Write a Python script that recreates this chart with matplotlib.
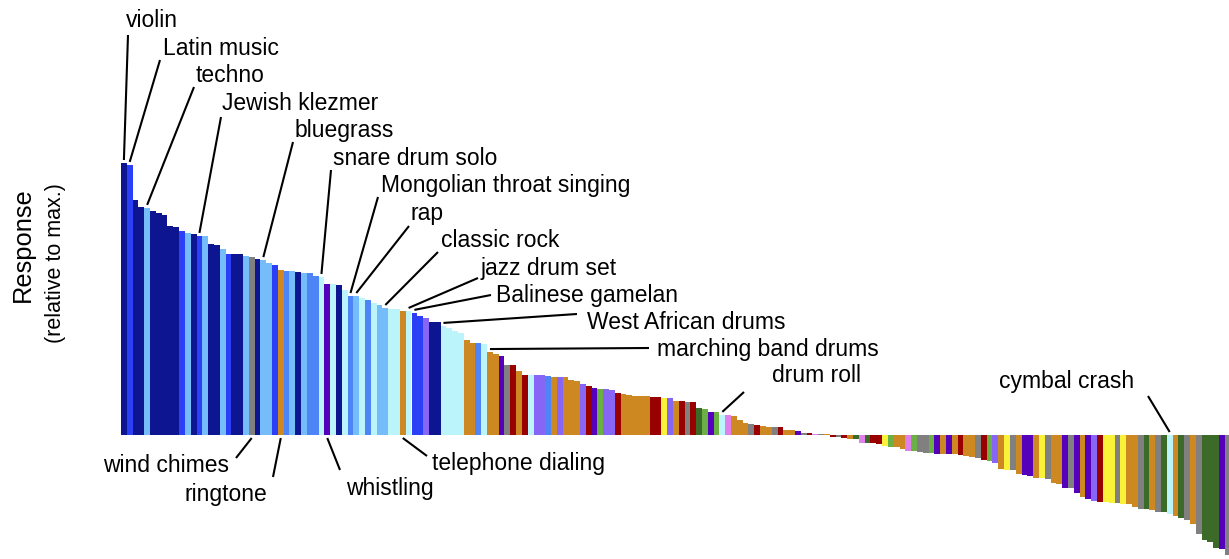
import matplotlib
matplotlib.use("Agg")
import matplotlib.pyplot as plt
import numpy as np

plt.rcParams["font.family"] = ["Liberation Sans", "DejaVu Sans"]

# response of each sound, sorted, relative to the max
response = [
    1.000, 0.993, 0.864, 0.838, 0.835, 0.824, 0.816, 0.809, 0.768, 0.765,
    0.750, 0.743, 0.739, 0.732, 0.732, 0.702, 0.699, 0.684, 0.665, 0.665,
    0.665, 0.658, 0.654, 0.647, 0.643, 0.632, 0.625, 0.607, 0.603, 0.603,
    0.599, 0.596, 0.596, 0.585, 0.581, 0.555, 0.555, 0.551, 0.533, 0.511,
    0.511, 0.504, 0.496, 0.485, 0.478, 0.467, 0.463, 0.463, 0.456, 0.456,
    0.449, 0.438, 0.430, 0.415, 0.415, 0.401, 0.393, 0.382, 0.375, 0.349,
    0.338, 0.338, 0.335, 0.305, 0.298, 0.290, 0.257, 0.257, 0.235, 0.221,
    0.221, 0.221, 0.221, 0.217, 0.213, 0.213, 0.213, 0.202, 0.199, 0.188,
    0.180, 0.173, 0.169, 0.169, 0.165, 0.154, 0.151, 0.147, 0.143, 0.143,
    0.143, 0.140, 0.140, 0.136, 0.136, 0.125, 0.125, 0.121, 0.121, 0.099,
    0.096, 0.085, 0.085, 0.074, 0.074, 0.070, 0.055, 0.044, 0.040, 0.037,
    0.033, 0.029, 0.029, 0.029, 0.018, 0.018, 0.015, 0.007, 0.007, 0.004,
    0.004, 0.002, -0.007, -0.007, -0.011, -0.015, -0.015, -0.029, -0.029, -0.029,
    -0.033, -0.040, -0.044, -0.044, -0.051, -0.059, -0.059, -0.063, -0.066, -0.066,
    -0.070, -0.070, -0.070, -0.070, -0.074, -0.077, -0.081, -0.085, -0.092, -0.096,
    -0.103, -0.125, -0.129, -0.129, -0.143, -0.147, -0.151, -0.158, -0.158, -0.162,
    -0.176, -0.180, -0.195, -0.195, -0.213, -0.228, -0.235, -0.243, -0.246, -0.246,
    -0.250, -0.250, -0.254, -0.254, -0.265, -0.272, -0.272, -0.276, -0.283, -0.283,
    -0.290, -0.298, -0.305, -0.313, -0.327, -0.364, -0.386, -0.393, -0.415, -0.419,
    -0.441,
]

# category code of each sound, same order
category = list(
    "NBNNSNNNNN" "BSNBSNNSBN" "NSGNSSBOMS" "NSMMCPCNCM" "SCMCSSCCOC"
    "BBLNNCCCCO" "OMCOOPGROR" "CLLMOLOOOL" "RPgLLROOOO" "ORRYLORGRD"
    "gPgCKOOOGR" "OOGROOPGRK" "GORGRODKDR" "RYgOOKgGGg" "POPOROOGRg"
    "LOYGOPPOYG" "OOPGPOPLRY" "YGYOOGDOGD" "CODGOGDDDPG"
)

COLORS = {
    "N": "#0d1690", "B": "#2b40f6", "S": "#75bdfa", "M": "#4d85f7",
    "C": "#bbf5fb", "O": "#cd8822", "P": "#5500bb", "L": "#8866f5",
    "R": "#990000", "G": "#808080", "g": "#6bb045", "D": "#3b6a29",
    "Y": "#faf238", "K": "#e080ea",
}

# labelled sounds: name, bar index
above_names = ["violin", "Latin music", "techno", "Jewish klezmer", "bluegrass",
               "snare drum solo", "Mongolian throat singing", "rap", "classic rock",
               "jazz drum set", "Balinese gamelan", "West African drums",
               "marching band drums", "drum roll", "cymbal crash"]
above_idx = [0, 1, 4, 13, 24, 34, 39, 40, 45, 49, 50, 55, 63, 103, 180]
below_names = ["wind chimes", "ringtone", "whistling", "telephone dialing"]
below_idx = [22, 27, 35, 48]

# layout (figure pixels, from top-left): text left/baseline, leader start
above_text = [(126, 27), (163, 55), (196, 82), (222, 110), (295, 137),
              (333, 165), (381, 192), (411, 220), (441, 247), (481, 275),
              (496, 302), (587, 329), (657, 356), (772, 382), (999, 388)]
above_lead = [(128, 35), (160, 60), (194, 87), (221, 117), (293, 142),
              (331, 170), (378, 197), (409, 226), (438, 252), (478, 278),
              (491, 295), (577, 314), (649, 348), (744, 392), (1148, 396)]
below_text = [(103, 472), (185, 501), (346, 495), (432, 470)]
below_lead = [(236, 458), (273, 477), (340, 470), (427, 456)]

W, H = 1229, 559
X0, BW, Y0, UNIT = 121, 5.81, 435, 272
GAP = 3

fig = plt.figure(figsize=(W / 100, H / 100), dpi=100)
ax = fig.add_axes([X0 / W, 0, (W - X0) / W, 1])
ax.set_xlim(-0.5, -0.5 + (W - X0) / BW)
ax.set_ylim(-(H - Y0) / UNIT, Y0 / UNIT)
ax.axis("off")


def px(x, y):
    return (x - X0) / BW - 0.5, (Y0 - y) / UNIT


x = np.arange(len(response))
ax.bar(x, response, width=1.0, color=[COLORS[c] for c in category],
       linewidth=0, antialiased=False)

FS = 16.5
for name, i, (tx, ty), (lx, ly) in zip(above_names, above_idx, above_text, above_lead):
    ax.text(*px(tx, ty), name, ha="left", va="baseline", fontsize=FS)
    x0, y0 = px(lx, ly)
    y1 = max(response[i], 0) + GAP / UNIT
    ax.plot([x0, i], [y0, y1], color="black", lw=1.5, solid_capstyle="butt")

for name, i, (tx, ty), (lx, ly) in zip(below_names, below_idx, below_text, below_lead):
    ax.text(*px(tx, ty), name, ha="left", va="baseline", fontsize=FS)
    x0, y0 = px(lx, ly)
    ax.plot([x0, i], [y0, -GAP / UNIT], color="black", lw=1.5, solid_capstyle="butt")

fig.text(23 / W, 1 - 245 / H, "Response", rotation=90, ha="center", va="center",
         fontsize=18.4)
fig.text(55 / W, 1 - 263 / H, "(relative to max.)", rotation=90, ha="center",
         va="center", fontsize=15.5)

fig.savefig("out.png", dpi=100, facecolor="white")
